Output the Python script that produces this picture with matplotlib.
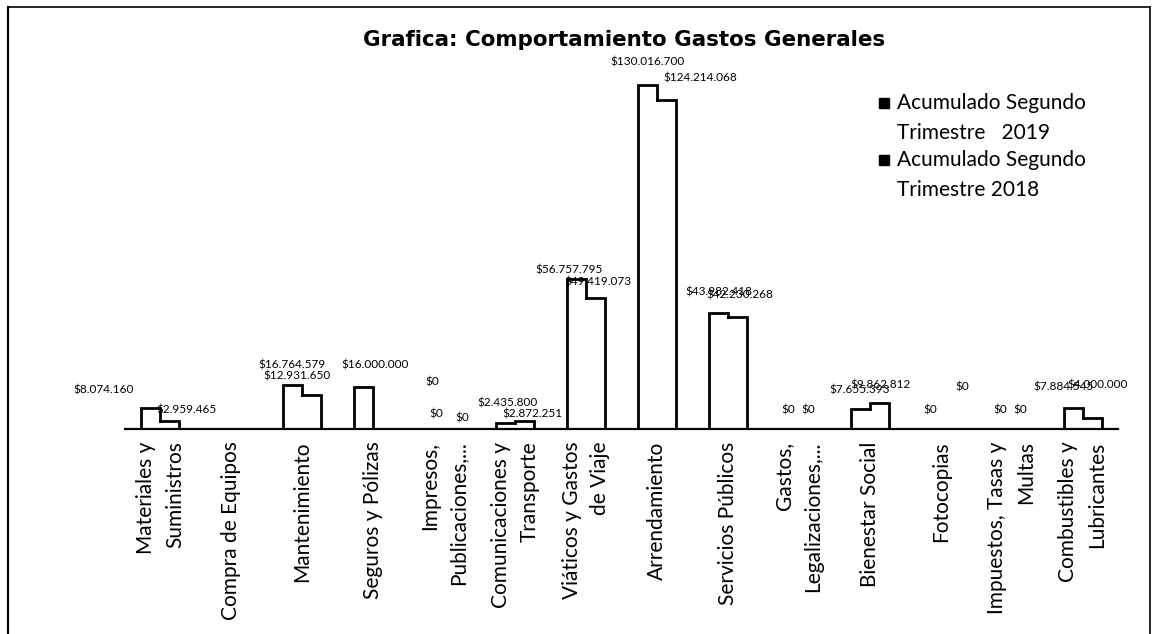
import matplotlib
matplotlib.use("Agg")
import matplotlib.pyplot as plt
from matplotlib.lines import Line2D
import numpy as np

categories = [
    "Materiales y\nSuministros",
    "Compra de Equipos",
    "Mantenimiento",
    "Seguros y Pólizas",
    "Impresos,\nPublicaciones,...",
    "Comunicaciones y\nTransporte",
    "Viáticos y Gastos\nde Viaje",
    "Arrendamiento",
    "Servicios Públicos",
    "Gastos,\nLegalizaciones,...",
    "Bienestar Social",
    "Fotocopias",
    "Impuestos, Tasas y\nMultas",
    "Combustibles y\nLubricantes",
]
values_2019 = [8074160, 0, 16764579, 16000000, 0, 2435800, 56757795, 130016700,
               43982418, 0, 7655393, 0, 0, 7884545]
values_2018 = [2959465, 0, 12931650, 0, 0, 2872251, 49419073, 124214068,
               42230268, 0, 9862812, 0, 0, 4000000]
series_names = ["Acumulado Segundo\nTrimestre   2019", "Acumulado Segundo\nTrimestre 2018"]
title = "Grafica: Comportamiento Gastos Generales"

# label offsets (pixels, dx right / dy up) relative to bar top centre; None = hidden
off_2019 = [(-47, 18), None, (-1, 20), (11, 22), (2, 15), (2, 20), (-7, 9), (0, 23),
            (0, 21), (-1, 19), (-1, 19), (-1, 19), (-2, 19), (-10, 21)]
off_2018 = [(17, 11), None, (-15, 19), (49, 47), (9, 11), (8, 7), (2, 16), (34, 22),
            (2, 22), (0, 19), (1, 18), (12, 42), (-1, 19), (6, 33)]


def fmt(v):
    return "$" + f"{v:,}".replace(",", ".")


W, H = 1157, 634
fig = plt.figure(figsize=(W / 100, H / 100), dpi=100)
fig.patch.set_facecolor("white")

ax_left, ax_right, ax_bottom, ax_top = 125, 1118, 429, 50
ax = fig.add_axes([ax_left / W, (H - ax_bottom) / H, (ax_right - ax_left) / W,
                   (ax_bottom - ax_top) / H])
n = len(categories)
x = np.arange(n)
ymax = 143.2e6
ax.set_xlim(-0.5, n - 0.5)
ax.set_ylim(0, ymax)

bw = 19 / ((ax_right - ax_left) / n)
lw = 2.0
ax.bar(x - bw / 2, values_2019, width=bw, color="white", edgecolor="black", linewidth=lw, zorder=2)
ax.bar(x + bw / 2, values_2018, width=bw, color="white", edgecolor="black", linewidth=lw, zorder=2)

# hide the shared inner edge so each pair reads as one stepped outline
px_y = ymax / (ax_bottom - ax_top)
px_x = n / (ax_right - ax_left)
for i in range(n):
    lo = min(values_2019[i], values_2018[i])
    if lo > 0:
        h = lo - 2 * px_y
        if h > 0:
            ax.bar(x[i], h, bottom=0, width=2 * bw - 4 * px_x, color="white",
                   edgecolor="none", zorder=3)

for i in range(n):
    for vals, offs, sgn in ((values_2019, off_2019, -1), (values_2018, off_2018, 1)):
        o = offs[i]
        if o is None:
            continue
        ax.annotate(fmt(vals[i]), (x[i] + sgn * bw / 2, vals[i]), xytext=o,
                    textcoords="offset pixels", ha="center", va="center",
                    fontsize=8.5, family="Lato", color="black", zorder=5)

for s in ("top", "right", "left"):
    ax.spines[s].set_visible(False)
ax.spines["bottom"].set_linewidth(1.6)
ax.spines["bottom"].set_zorder(6)
ax.set_yticks([])
ax.set_xticks(x)
ax.set_xticklabels(categories, rotation=90, ha="center", va="top", ma="right",
                   fontsize=15, family="Lato", linespacing=1.55)
ax.tick_params(axis="x", length=0, pad=9)

fig.text(624 / W, 1 - 40 / H, title, ha="center", va="center", fontsize=15.4,
         fontweight="bold", family="DejaVu Sans")

# legend: square marker aligned with the first line of each two-line entry
legend_first_line_y = [103, 160]
for name, ly in zip(series_names, legend_first_line_y):
    fig.add_artist(Line2D([884 / W], [1 - ly / H], marker="s", color="black",
                          linestyle="none", markersize=6.5))
    fig.text(897 / W, 1 - (ly - 10) / H, name, ha="left", va="top",
             family="Lato", fontsize=15, linespacing=1.6)

# outer border
fig.add_artist(Line2D([8 / W, 8 / W], [0, 1 - 7 / H], color="black", lw=1.5))
fig.add_artist(Line2D([8 / W, 1150 / W], [1 - 7 / H, 1 - 7 / H], color="black", lw=1.2))
fig.add_artist(Line2D([1150 / W, 1150 / W], [0, 1 - 7 / H], color="black", lw=1.2))

fig.savefig("out.png", dpi=100, facecolor="white")
